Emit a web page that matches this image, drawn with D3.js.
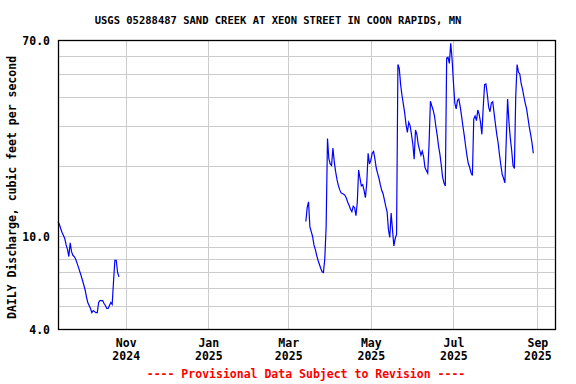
<!DOCTYPE html>
<html>
<head>
<meta charset="utf-8">
<script src="https://cdn.jsdelivr.net/npm/d3@7"></script>
<style>
  body { margin: 0; background: white; }
  text { font-family: "DejaVu Sans Mono", monospace; font-weight: bold; }
  .grid line { stroke: #cccccc; stroke-width: 1; shape-rendering: crispEdges; }
  .grid path { display: none; }
</style>
</head>
<body>
<svg id="chart" width="576" height="384" viewBox="0 0 576 384"></svg>
<script>
// data (daily mean, cfs)
var titleText = "USGS 05288487 SAND CREEK AT XEON STREET IN COON RAPIDS, MN";
var yLabel = "DAILY Discharge, cubic feet per second";
var footText = "---- Provisional Data Subject to Revision ----";

var xStart = "2024-09-12";
var xEnd = "2025-09-14";

var seg1Start = "2024-09-12";
var seg1Values = [11.6, 11.3, 10.8, 10.4, 10.1, 9.8, 9.2, 8.8, 8.2, 9.4,
    8.6, 8.3, 8.2, 8.0, 7.7, 7.4, 7.1, 6.8, 6.5, 6.2,
    5.9, 5.5, 5.2, 5.05, 4.9, 4.7, 4.8, 4.75, 4.7, 4.7,
    5.2, 5.3, 5.3, 5.3, 5.15, 5.05, 4.9, 4.9, 5.05, 5.2,
    5.1, 6.4, 7.9, 7.9, 7.0, 6.7];

var seg2Start = "2025-03-14";
var seg2Values = [11.6, 13.3, 14.1, 11.0, 10.5, 10.0, 9.2, 8.8, 8.3, 7.9,
    7.6, 7.3, 7.05, 7.0, 8.0, 11.0, 26.4, 21.6, 20.5, 20.2,
    24.0, 21.0, 19.0, 17.6, 16.6, 15.9, 15.4, 15.3, 15.2, 15.0,
    14.6, 14.0, 13.6, 13.1, 12.8, 13.5, 13.3, 12.3, 14.0, 19.3,
    17.8, 16.5, 16.7, 15.8, 14.7, 17.0, 22.8, 20.5, 21.3, 22.8,
    23.2, 21.6, 19.7, 18.7, 17.8, 16.7, 15.8, 15.3, 14.4, 13.5,
    12.8, 10.7, 9.9, 12.6, 10.7, 9.1, 9.8, 10.2, 54.9, 52.8,
    45.0, 40.5, 37.2, 34.0, 30.3, 28.0, 31.0, 30.0, 27.5, 25.0,
    21.5, 28.7, 27.5, 24.9, 23.6, 22.4, 23.3, 22.0, 19.8, 19.2,
    18.7, 25.0, 38.2, 36.5, 35.0, 33.0, 29.8, 27.3, 24.5, 22.6,
    20.3, 18.0, 17.0, 16.5, 58.5, 59.0, 55.5, 67.7, 58.0, 46.0,
    37.5, 35.4, 38.5, 39.0, 36.2, 33.0, 29.8, 27.2, 24.5, 22.2,
    20.6, 19.8, 18.8, 18.3, 32.0, 33.0, 31.5, 35.0, 33.5, 31.0,
    27.5, 36.0, 45.0, 45.3, 41.0, 36.0, 34.4, 37.5, 38.0, 34.0,
    30.5, 27.5, 25.3, 22.5, 20.3, 18.5, 17.8, 17.0, 26.0, 39.0,
    31.0, 26.5, 23.5, 20.2, 19.6, 40.0, 54.9, 51.0, 50.0, 45.5,
    43.0, 40.0, 37.5, 35.5, 32.4, 29.6, 27.5, 25.3, 22.8];

var yLabelTicks = [4, 10, 70];
var yGridTicks = [5, 6, 7, 8, 9, 10, 20, 30, 40, 50, 60];
var xTicks = ["2024-11-01", "2025-01-01", "2025-03-01", "2025-05-01", "2025-07-01", "2025-09-01"];

const margins = {top: 40, right: 21, bottom: 55, left: 58};

var parseDay = d3.timeParse("%Y-%m-%d");

function toSeries(start, values){
    let d0 = parseDay(start);
    return values.map((v, i) => ({date: d3.timeDay.offset(d0, i), value: v}));
}

function drawGrid(chart, xScale, yScale, left, top, width, height){
    chart.append("g")
        .attr("class", "grid")
        .attr("transform", `translate(${left},${top})`)
        .call(d3.axisLeft(yScale)
            .tickValues(yGridTicks)
            .tickFormat("")
            .tickSize(-width));

    chart.append("g")
        .attr("class", "grid")
        .attr("transform", `translate(${left},${top + height})`)
        .call(d3.axisBottom(xScale)
            .tickValues(xTicks.map(parseDay))
            .tickFormat("")
            .tickSize(height));
    // axisBottom draws downward, flip it up into the plot
    chart.selectAll(".grid line").filter(function(){ return this.getAttribute("y2") !== null && +this.getAttribute("y2") > 0; })
        .attr("y2", -height);
}

function drawYAxis(chart, scale, left, top){
    let ax = chart.append("g")
        .attr("transform", `translate(${left},${top})`)
        .call(d3.axisLeft(scale)
            .tickValues(yLabelTicks)
            .tickFormat(d3.format(".1f"))
            .tickSize(0)
            .tickPadding(8));
    ax.select(".domain").remove();
    ax.selectAll("text")
        .attr("font-size", "11.5px")
        .attr("fill", "black")
        .attr("dy", "0.35em")
        .style("font-family", "'DejaVu Sans Mono', monospace");

    chart.append("text")
        .attr("text-anchor", "middle")
        .attr("transform", `translate(16,${top + (384 - margins.top - margins.bottom) / 2 + 3}) rotate(-90)`)
        .attr("font-size", "11.5px")
        .text(yLabel);
}

function drawXAxis(chart, scale, left, bottom){
    let ax = chart.append("g")
        .attr("transform", `translate(${left},${bottom})`)
        .call(d3.axisBottom(scale)
            .tickValues(xTicks.map(parseDay))
            .tickFormat(d3.timeFormat("%b"))
            .tickSize(0)
            .tickPadding(0));
    ax.select(".domain").remove();
    ax.selectAll("text")
        .attr("font-size", "11.5px")
        .attr("fill", "black")
        .attr("dy", null)
        .attr("y", 18)
        .style("font-family", "'DejaVu Sans Mono', monospace")
        .each(function(d){
            d3.select(this).append("tspan")
                .attr("x", 0)
                .attr("y", 31)
                .text(d3.timeFormat("%Y")(d));
        });
}

function drawLine(chart, data, xScale, yScale, left, top){
    let line = d3.line()
        .x(d => xScale(d.date))
        .y(d => yScale(d.value));

    chart.append("path")
        .datum(data)
        .attr("transform", `translate(${left},${top})`)
        .attr("fill", "none")
        .attr("stroke", "#0000ff")
        .attr("stroke-width", 1.2)
        .attr("d", line);
}

function hydrograph(id){
    let totalWidth = 576;
    let totalHeight = 384;
    let innerWidth = totalWidth - margins.left - margins.right;
    let innerHeight = totalHeight - margins.top - margins.bottom;

    let xScale = d3.scaleTime([parseDay(xStart), parseDay(xEnd)], [0, innerWidth]);
    let yScale = d3.scaleLog([4, 70], [innerHeight, 0]);

    let chart = d3.select("#" + id);

    chart.append("rect")
        .attr("width", totalWidth).attr("height", totalHeight)
        .style("fill", "white");

    drawGrid(chart, xScale, yScale, margins.left, margins.top, innerWidth, innerHeight);

    drawLine(chart, toSeries(seg1Start, seg1Values), xScale, yScale, margins.left, margins.top);
    drawLine(chart, toSeries(seg2Start, seg2Values), xScale, yScale, margins.left, margins.top);

    // plot frame
    chart.append("rect")
        .attr("x", margins.left + 0.5)
        .attr("y", margins.top + 0.5)
        .attr("width", innerWidth)
        .attr("height", innerHeight)
        .attr("fill", "none")
        .attr("stroke", "black")
        .attr("stroke-width", 1.3);

    drawYAxis(chart, yScale, margins.left, margins.top);
    drawXAxis(chart, xScale, margins.left, margins.top + innerHeight);

    chart.append("text")
        .attr("x", 278)
        .attr("y", 24)
        .attr("text-anchor", "middle")
        .attr("font-size", "10.5px")
        .text(titleText);

    chart.append("text")
        .attr("x", 306)
        .attr("y", 378)
        .attr("text-anchor", "middle")
        .attr("font-size", "11.5px")
        .attr("fill", "red")
        .text(footText);
}

hydrograph("chart");
</script>
</body>
</html>
